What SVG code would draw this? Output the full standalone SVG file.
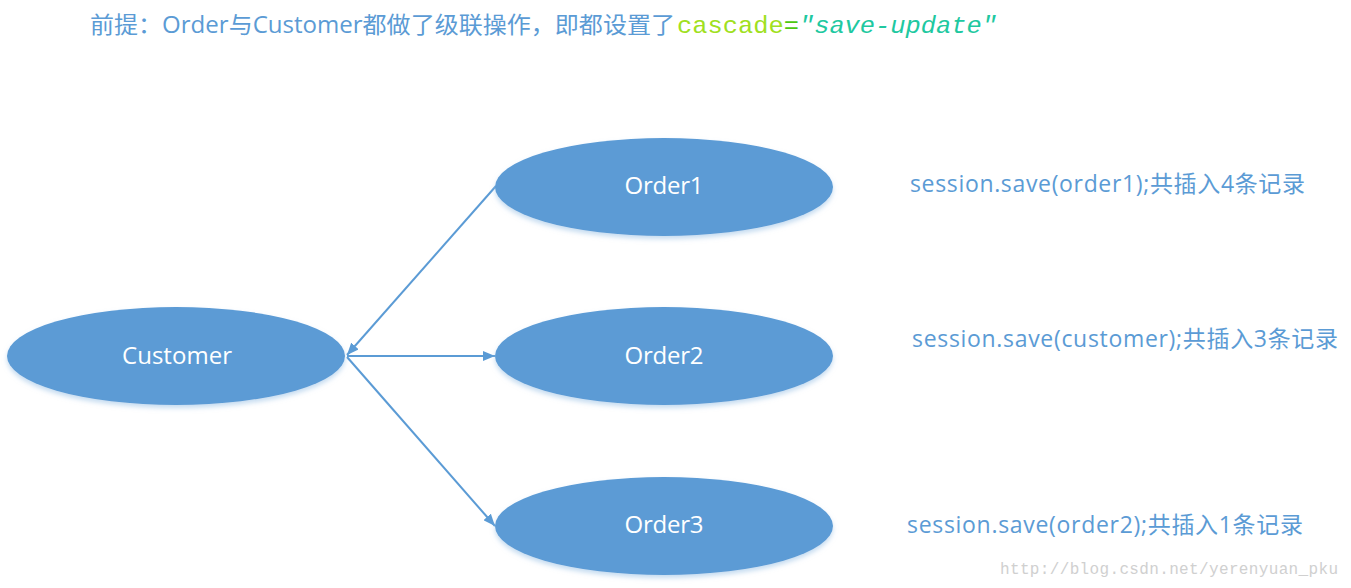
<svg xmlns="http://www.w3.org/2000/svg" width="1351" height="588" viewBox="0 0 1351 588">
<defs>
<style>
.node{fill:#5B9BD5;filter:url(#sh);}
.nt{fill:#fff;font-family:"Open Sans","Noto Sans CJK SC",sans-serif;font-size:24px;text-anchor:middle;}
.lb{fill:#5B9BD5;font-family:"Open Sans","Noto Sans CJK SC",sans-serif;font-size:23px;}
.cn{stroke:#5B9BD5;stroke-width:2;fill:none;}
.mono{font-family:"Liberation Mono",monospace;font-size:24px;}
</style>
<filter id="sh" x="-10%" y="-20%" width="120%" height="150%">
<feGaussianBlur in="SourceAlpha" stdDeviation="2.5"/>
<feOffset dx="0" dy="3" result="b"/>
<feFlood flood-color="#9DC3E6" flood-opacity="0.6"/>
<feComposite in2="b" operator="in"/>
<feMerge><feMergeNode/><feMergeNode in="SourceGraphic"/></feMerge>
</filter>
<marker id="arw" viewBox="0 0 12 10" refX="12" refY="5" markerWidth="12" markerHeight="10" orient="auto" markerUnits="userSpaceOnUse">
<path d="M0,0 L12,5 L0,10 z" fill="#5B9BD5"/>
</marker>
</defs>
<rect width="1351" height="588" fill="#fff"/>
<text x="90" y="33" font-family="Open Sans,Noto Sans CJK SC,sans-serif" font-size="23" fill="#5B9BD5" textLength="585" lengthAdjust="spacingAndGlyphs">前提：Order与Customer都做了级联操作，即都设置了</text>
<text x="677" y="33" class="mono" textLength="320" lengthAdjust="spacingAndGlyphs"><tspan fill="#A0E020">cascade</tspan><tspan fill="#4CC810">=</tspan><tspan fill="#20C8A0" font-style="italic">"save-update"</tspan></text>
<g id="connectors">
<line class="cn" x1="496" y1="186" x2="347" y2="355" marker-end="url(#arw)"/>
<line class="cn" x1="347" y1="356" x2="495" y2="356" marker-end="url(#arw)"/>
<line class="cn" x1="347" y1="357" x2="495" y2="526" marker-end="url(#arw)"/>
</g>
<g id="customer">
<ellipse class="node" cx="176" cy="356" rx="169" ry="49"/>
<text class="nt" x="177" y="364" textLength="110">Customer</text>
</g>
<g id="order1">
<ellipse class="node" cx="664" cy="187" rx="169" ry="49"/>
<text class="nt" x="664" y="194" textLength="79">Order1</text>
</g>
<g id="order2">
<ellipse class="node" cx="664" cy="356" rx="169" ry="49"/>
<text class="nt" x="664" y="364" textLength="79">Order2</text>
</g>
<g id="order3">
<ellipse class="node" cx="664" cy="526" rx="169" ry="49"/>
<text class="nt" x="664" y="533" textLength="79">Order3</text>
</g>
<text class="lb" x="910" y="192" textLength="395">session.save(order1);共插入4条记录</text>
<text class="lb" x="912" y="347" textLength="426">session.save(customer);共插入3条记录</text>
<text class="lb" x="907" y="533" textLength="396">session.save(order2);共插入1条记录</text>
<text x="1000" y="574" font-family="Liberation Mono,monospace" font-size="16" fill="#D0D0D0" textLength="338">http://blog.csdn.net/yerenyuan_pku</text>
</svg>
